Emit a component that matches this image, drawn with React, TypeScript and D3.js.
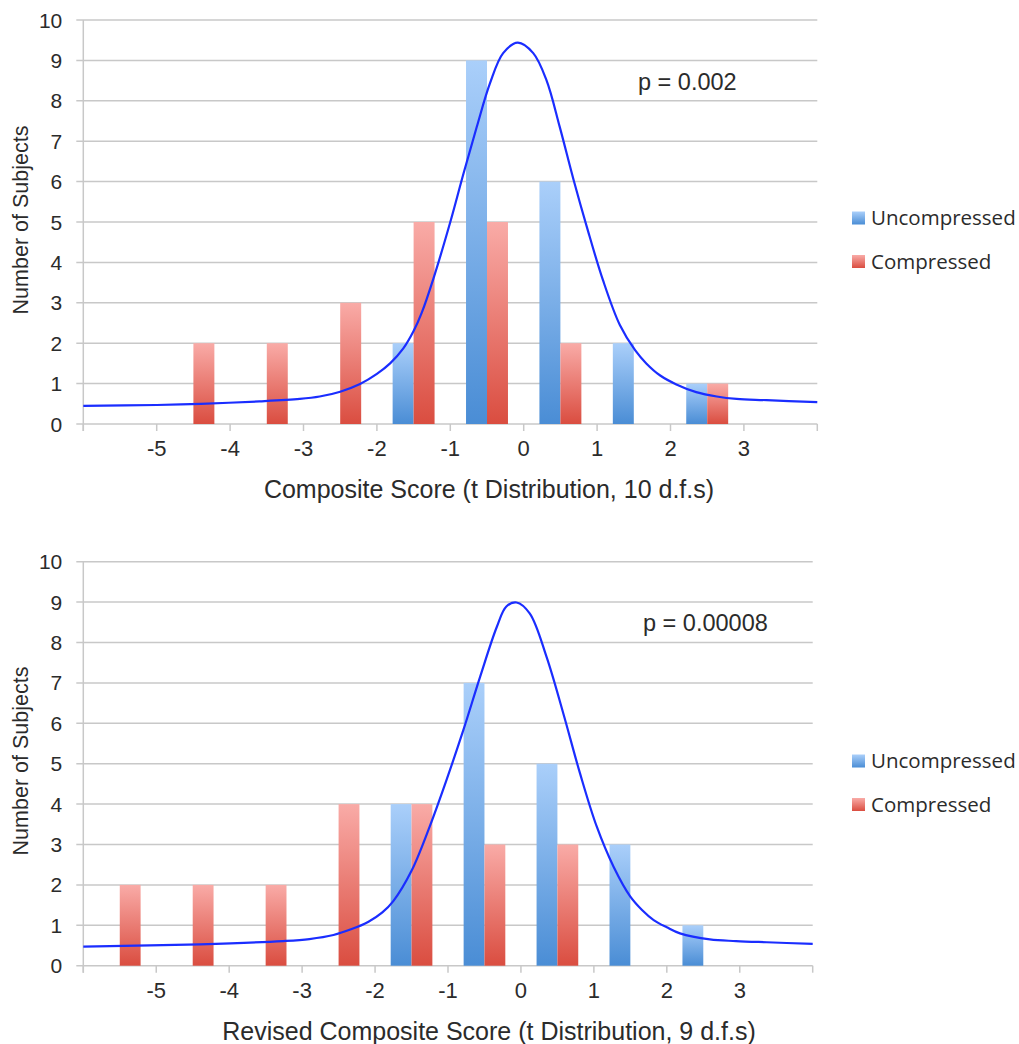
import React from 'react';
import * as d3 from 'd3';

// bin centres of the histogram (one unit wide bins from -6 to 4)
const binCenters = [-5.5, -4.5, -3.5, -2.5, -1.5, -0.5, 0.5, 1.5, 2.5, 3.5];
const xTickValues = [-5, -4, -3, -2, -1, 0, 1, 2, 3];
const yTickValues = [0, 1, 2, 3, 4, 5, 6, 7, 8, 9, 10];
const seriesNames = ['Uncompressed', 'Compressed'];

const topUncompressed = [0, 0, 0, 0, 2, 9, 6, 2, 1, 0];
const topCompressed = [0, 2, 2, 3, 5, 5, 2, 0, 1, 0];
const bottomUncompressed = [0, 0, 0, 0, 4, 7, 5, 3, 1, 0];
const bottomCompressed = [2, 2, 2, 4, 4, 3, 3, 0, 0, 0];

// fitted t curves as [score, subjects]
const topCurve: [number, number][] = [
  [-6, 0.45], [-5, 0.47], [-4.4, 0.5], [-3.6, 0.56], [-3.05, 0.62], [-2.78, 0.68],
  [-2.5, 0.8], [-2.23, 0.99], [-2.0, 1.24], [-1.82, 1.5], [-1.64, 1.87], [-1.5, 2.3],
  [-1.39, 2.75], [-1.23, 3.6], [-1.0, 5.0], [-0.82, 6.2], [-0.64, 7.35], [-0.46, 8.43],
  [-0.28, 9.18], [-0.08, 9.44], [0.13, 9.18], [0.31, 8.51], [0.49, 7.36], [0.68, 6.04],
  [0.86, 4.88], [1.08, 3.56], [1.31, 2.45], [1.52, 1.82], [1.67, 1.5], [1.86, 1.2],
  [2.08, 0.98], [2.35, 0.79], [2.63, 0.68], [2.9, 0.62], [3.31, 0.59], [4, 0.54],
];
const bottomCurve: [number, number][] = [
  [-6, 0.47], [-4.4, 0.53], [-3.26, 0.61], [-2.9, 0.66], [-2.57, 0.76], [-2.33, 0.9],
  [-2.09, 1.09], [-1.9, 1.32], [-1.75, 1.6], [-1.5, 2.35], [-1.25, 3.45], [-1.02, 4.6],
  [-0.79, 5.83], [-0.56, 7.15], [-0.33, 8.39], [-0.2, 8.89], [-0.06, 8.99], [0.12, 8.72],
  [0.35, 7.65], [0.58, 6.25], [0.81, 4.76], [1.04, 3.44], [1.27, 2.45], [1.5, 1.71],
  [1.66, 1.38], [1.82, 1.13], [2.0, 0.95], [2.18, 0.8], [2.59, 0.65], [2.95, 0.61],
  [3.37, 0.58], [4, 0.54],
];

const GRID = '#c8c8c8';
const TEXT = '#2b2b2b';
const ARIAL = '"Liberation Sans", Arial, sans-serif';
const LEGEND_FONT = '"Open Sans", Lato, sans-serif';

interface ChartProps {
  uncompressed: number[];
  compressed: number[];
  curve: [number, number][];
  pLabel: string;
  xTitle: string;
  left: number;
  right: number;
  top: number;
  bottom: number;
  pX: number;
  pY: number;
  yTitleY: number;
  legendY: number;
}

const Chart = ({ uncompressed, compressed, curve, pLabel, xTitle, left, right, top, bottom, pX, pY, yTitleY, legendY }: ChartProps) => {
  const x = d3.scaleLinear().domain([-6, 4]).range([left, right]);
  const y = d3.scaleLinear().domain([0, 10]).range([bottom, top]);
  const x0 = d3.scaleBand<number>().domain(binCenters).range([left, right])
    .paddingInner(1.5 / 3.5).paddingOuter(0.75 / 3.5);
  const x1 = d3.scaleBand<string>().domain(seriesNames).range([0, x0.bandwidth()]);
  const values = [uncompressed, compressed];
  const line = d3.line<[number, number]>()
    .x(d => x(d[0]))
    .y(d => y(d[1]))
    .curve(d3.curveCatmullRom.alpha(0.5));

  return (
    <g>
      {/* gridlines with left tick stubs */}
      {yTickValues.map(t => (
        <line key={t} x1={left - 7} x2={right} y1={y(t)} y2={y(t)} stroke={GRID} strokeWidth={1.5} />
      ))}
      <line x1={left} x2={left} y1={top} y2={bottom + 7} stroke={GRID} strokeWidth={1.5} />
      {d3.range(-6, 5).map(t => (
        <line key={t} x1={x(t)} x2={x(t)} y1={bottom} y2={bottom + 7} stroke={GRID} strokeWidth={1.5} />
      ))}

      {/* bars */}
      {seriesNames.map((s, si) => (
        <g key={s}>
          {binCenters.map((c, i) => {
            const v = values[si][i];
            if (!v) return null;
            return (
              <rect
                key={c}
                x={(x0(c) ?? 0) + (x1(s) ?? 0)}
                y={y(v)}
                width={x1.bandwidth()}
                height={y(0) - y(v)}
                fill={`url(#${si === 0 ? 'gradBlue' : 'gradRed'})`}
              />
            );
          })}
        </g>
      ))}

      <path d={line(curve) ?? undefined} fill="none" stroke="#1a2dff" strokeWidth={2.2} />

      {/* tick labels */}
      {yTickValues.map(t => (
        <text key={t} x={left - 21} y={y(t)} dy="0.36em" textAnchor="end" fontFamily={ARIAL} fontSize={21} fill={TEXT}>
          {t}
        </text>
      ))}
      {xTickValues.map(t => (
        <text key={t} x={x(t)} y={bottom + 24} dy="0.36em" textAnchor="middle" fontFamily={ARIAL} fontSize={22} fill={TEXT}>
          {t}
        </text>
      ))}

      <text x={489} y={bottom + 65} dy="0.36em" textAnchor="middle" fontFamily={ARIAL} fontSize={25} fill={TEXT}>
        {xTitle}
      </text>
      <text
        transform={`translate(20,${yTitleY}) rotate(-90)`}
        dy="0.36em"
        textAnchor="middle"
        fontFamily={ARIAL}
        fontSize={21.5}
        fill={TEXT}
      >
        Number of Subjects
      </text>
      <text x={pX} y={pY} dy="0.36em" fontFamily={ARIAL} fontSize={23.5} fill={TEXT}>
        {pLabel}
      </text>

      {/* legend */}
      {seriesNames.map((s, si) => (
        <g key={s} transform={`translate(852,${legendY + si * 43.5})`}>
          <rect x={0} y={-6.5} width={13} height={13} fill={`url(#${si === 0 ? 'gradBlue' : 'gradRed'})`} />
          <text x={19} y={0} dy="0.36em" fontFamily={LEGEND_FONT} fontSize={20.5} fill={TEXT}>
            {s}
          </text>
        </g>
      ))}
    </g>
  );
};

const App = () => {
  return (
    <div style={{ position: 'absolute', left: 0, top: 0 }}>
      <svg width={1019} height={1044} style={{ display: 'block', background: '#fff' }}>
        <defs>
          <linearGradient id="gradBlue" x1="0" y1="0" x2="0" y2="1">
            <stop offset="0%" stopColor="#aacffa" />
            <stop offset="100%" stopColor="#4a8dd5" />
          </linearGradient>
          <linearGradient id="gradRed" x1="0" y1="0" x2="0" y2="1">
            <stop offset="0%" stopColor="#f9aba7" />
            <stop offset="100%" stopColor="#da4d40" />
          </linearGradient>
        </defs>
        <Chart
          uncompressed={topUncompressed}
          compressed={topCompressed}
          curve={topCurve}
          pLabel="p = 0.002"
          xTitle="Composite Score (t Distribution, 10 d.f.s)"
          left={83.3}
          right={817.3}
          top={20}
          bottom={424}
          pX={638}
          pY={82}
          yTitleY={220}
          legendY={218}
        />
        <Chart
          uncompressed={bottomUncompressed}
          compressed={bottomCompressed}
          curve={bottomCurve}
          pLabel="p = 0.00008"
          xTitle="Revised Composite Score (t Distribution, 9 d.f.s)"
          left={83.3}
          right={812.7}
          top={561.7}
          bottom={965.7}
          pX={643}
          pY={623}
          yTitleY={761}
          legendY={761}
        />
      </svg>
    </div>
  );
};

export default App;
